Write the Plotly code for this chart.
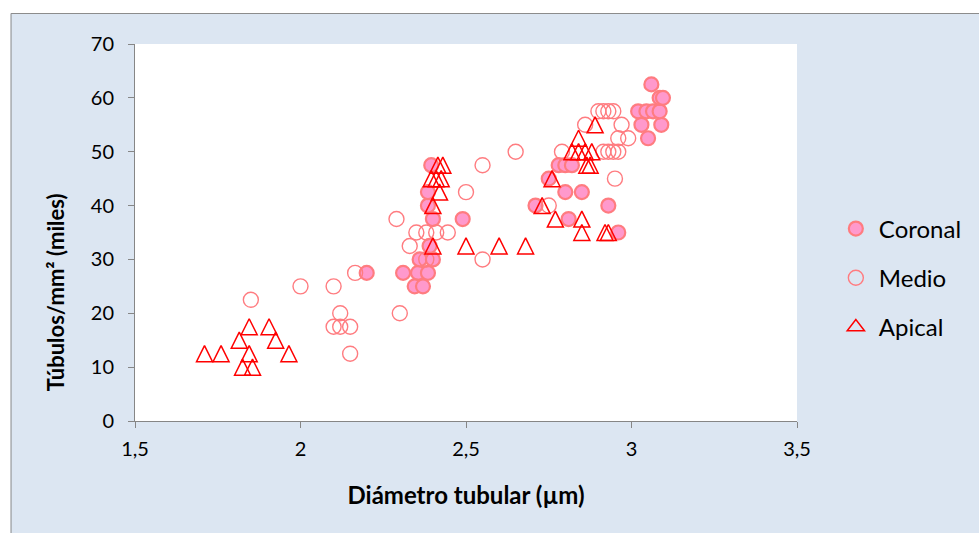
import plotly.graph_objects as go

# Diámetro tubular (µm) vs túbulos/mm² (miles) for each region of the root
coronal_x = [2.2, 2.31, 2.355, 2.385, 2.345, 2.37, 2.36, 2.4, 2.39, 2.4, 2.385, 2.385,
             2.395, 2.49, 2.71, 2.75, 2.78, 2.8, 2.82, 2.8, 2.85, 2.81, 2.93, 2.96,
             3.05, 3.03, 3.09, 3.02, 3.045, 3.065, 3.085, 3.085, 3.095, 3.06]
coronal_y = [27.5, 27.5, 27.5, 27.5, 25, 25, 30, 30, 32.5, 37.5, 40, 42.5,
             47.5, 37.5, 40, 45, 47.5, 47.5, 47.5, 42.5, 42.5, 37.5, 40, 35,
             52.5, 55, 55, 57.5, 57.5, 57.5, 57.5, 60, 60, 62.5]

medio_x = [1.85, 2.0, 2.1, 2.12, 2.1, 2.12, 2.15, 2.15, 2.165, 2.3, 2.29, 2.33,
           2.35, 2.38, 2.41, 2.445, 2.38, 2.5, 2.55, 2.55, 2.65, 2.75, 2.79, 2.86,
           2.9, 2.915, 2.93, 2.945, 2.97, 2.96, 2.99, 2.915, 2.93, 2.945, 2.96, 2.95]
medio_y = [22.5, 25, 25, 20, 17.5, 17.5, 17.5, 12.5, 27.5, 20, 37.5, 32.5,
           35, 35, 35, 35, 30, 42.5, 47.5, 30, 50, 40, 50, 55,
           57.5, 57.5, 57.5, 57.5, 55, 52.5, 52.5, 50, 50, 50, 50, 45]

apical_x = [1.71, 1.76, 1.845, 1.965, 1.825, 1.855, 1.815, 1.925, 1.845, 1.905,
            2.415, 2.43, 2.395, 2.41, 2.425, 2.42, 2.4, 2.4, 2.5, 2.6, 2.68,
            2.73, 2.76, 2.77, 2.85, 2.85, 2.92, 2.93, 2.865, 2.875, 2.82, 2.84,
            2.86, 2.88, 2.84, 2.89]
apical_y = [12.5, 12.5, 12.5, 12.5, 10, 10, 15, 15, 17.5, 17.5,
            47.5, 47.5, 45, 45, 45, 42.5, 40, 32.5, 32.5, 32.5, 32.5,
            40, 45, 37.5, 37.5, 35, 35, 35, 47.5, 47.5, 50, 50,
            50, 50, 52.5, 55]

x_ticks = [1.5, 2, 2.5, 3, 3.5]
y_ticks = [0, 10, 20, 30, 40, 50, 60, 70]

FONT = "Lato"
AXIS_GREY = "#868686"
RED = "#FF0000"

fig = go.Figure()

fig.add_trace(go.Scatter(
    x=coronal_x, y=coronal_y, mode="markers", name="Coronal", legendgroup="c",
    marker=dict(symbol="circle", size=14, color="#FF99CC",
                line=dict(color="#FF7C80", width=2.2)),
))
fig.add_trace(go.Scatter(
    x=medio_x, y=medio_y, mode="markers", name="Medio", legendgroup="m",
    marker=dict(symbol="circle-open", size=15, color="#FF7C80",
                line=dict(color="#FF7C80", width=1.4)),
))
# Upright triangle as tall as it is wide, centred on the point
fig.add_trace(go.Scatter(
    x=apical_x, y=apical_y, mode="markers", name="Apical", legendgroup="a",
    showlegend=False,
    marker=dict(symbol="arrow-down-open", size=16, angle=180, standoff=8,
                color=RED, line=dict(color=RED, width=1.5)),
))
# Legend entry for the Apical series
fig.add_trace(go.Scatter(
    x=[None], y=[None], mode="markers", name="Apical", legendgroup="a",
    marker=dict(symbol="triangle-up-open", size=15, color=RED,
                line=dict(color=RED, width=1.5)),
))

# Chart-area frame: white page corner with a grey edge on the left and top
L, R, T, B = 135, 800, 44, 421
W, H = R - L, B - T
def px_x(p):
    return (p - L) / W
def px_y(p):
    return (B - p) / H

shapes = [
    dict(type="rect", xref="paper", yref="paper", x0=px_x(-30), x1=px_x(1010),
         y0=px_y(13), y1=px_y(-30), fillcolor="white", line_width=0, layer="above"),
    dict(type="rect", xref="paper", yref="paper", x0=px_x(-30), x1=px_x(10),
         y0=px_y(560), y1=px_y(-30), fillcolor="white", line_width=0, layer="above"),
    dict(type="line", xref="paper", yref="paper", x0=px_x(10.5), x1=px_x(1010),
         y0=px_y(13.5), y1=px_y(13.5), line=dict(color="#8C8C8C", width=1)),
    dict(type="line", xref="paper", yref="paper", x0=px_x(10.5), x1=px_x(10.5),
         y0=px_y(13.5), y1=px_y(560), line=dict(color="#8C8C8C", width=1)),
]

annotations = [
    dict(text="<b>Túbulos/mm² (miles)</b>", textangle=-90, showarrow=False,
         xref="paper", yref="paper", x=px_x(55), y=px_y(292),
         xanchor="center", yanchor="middle",
         font=dict(family=FONT, size=22, color="black")),
]

fig.update_layout(
    width=979, height=533,
    margin=dict(l=L, r=979 - R, t=T, b=533 - B),
    paper_bgcolor="#DCE6F2",
    plot_bgcolor="white",
    separators=",.",
    font=dict(family=FONT, size=20, color="black"),
    showlegend=True,
    legend=dict(x=px_x(836), y=px_y(278), xanchor="left", yanchor="middle",
                bgcolor="rgba(0,0,0,0)", font=dict(family=FONT, size=24),
                tracegroupgap=15, itemwidth=36),
    shapes=shapes,
    annotations=annotations,
)

fig.update_xaxes(
    range=[1.5, 3.5], tickvals=x_ticks, showgrid=False, zeroline=False,
    showline=True, linecolor=AXIS_GREY, linewidth=1,
    ticks="outside", ticklen=6, tickcolor=AXIS_GREY,
    tickfont=dict(family=FONT, size=20), ticklabelstandoff=4,
    title=dict(text="<b>Diámetro tubular (µm)</b>", standoff=28,
               font=dict(family=FONT, size=24)),
)
fig.update_yaxes(
    range=[0, 70], tickvals=y_ticks, showgrid=False, zeroline=False,
    showline=True, linecolor=AXIS_GREY, linewidth=1,
    ticks="outside", ticklen=6, tickcolor=AXIS_GREY,
    tickfont=dict(family=FONT, size=20), ticklabelstandoff=10,
)

fig.write_html("out.html")
